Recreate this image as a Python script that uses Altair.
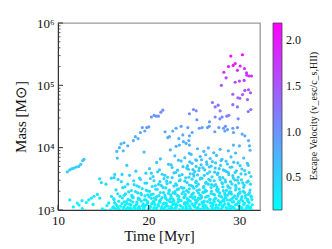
import altair as alt
import pandas as pd

# (time [Myr], mass [Msun], escape velocity)
bright_clusters = [
    (29.08, 295000, 2.05), (30.36, 309000, 2.12), (28.82, 200000, 1.95), (29.34, 209000, 1.97),
    (29.56, 224000, 2.00), (30.11, 204000, 1.93), (30.59, 186000, 1.88), (29.81, 174000, 1.86),
    (28.31, 162000, 1.80), (30.81, 158000, 1.84), (30.85, 145000, 1.80), (31.10, 141000, 1.76),
    (31.36, 141000, 1.80), (28.56, 132000, 1.72), (30.55, 120000, 1.70), (30.03, 117000, 1.66),
    (29.56, 112000, 1.62), (28.04, 100000, 1.55), (29.30, 72000, 1.45), (29.86, 63000, 1.44),
    (30.08, 62000, 1.40), (30.37, 71000, 1.50), (30.63, 83000, 1.55), (30.92, 59000, 1.40),
    (31.03, 85000, 1.56), (31.25, 76000, 1.50), (27.05, 53000, 1.30), (27.35, 45000, 1.28),
    (27.68, 48000, 1.30), (29.30, 49000, 1.35), (29.81, 45000, 1.30), (31.00, 38000, 1.25),
    (31.29, 41000, 1.30),
]

upper_clusters = [
    (24.95, 41000, 1.10), (27.90, 39000, 1.20), (27.35, 31000, 1.15), (27.87, 29000, 1.10),
    (28.12, 31000, 1.15), (28.64, 32000, 1.15), (28.86, 33000, 1.20), (29.89, 29000, 1.10),
    (25.33, 28000, 1.00), (24.51, 35000, 1.05), (25.25, 39000, 1.08), (26.72, 26000, 1.00),
    (27.76, 21000, 0.95), (28.49, 22000, 1.00), (29.30, 20500, 0.95), (29.81, 21000, 0.95),
    (25.91, 21000, 0.90), (26.50, 21000, 0.90), (26.69, 22000, 0.95), (27.31, 18000, 0.90),
    (28.27, 20500, 0.95), (28.42, 18500, 0.90), (28.71, 19500, 0.90), (29.37, 17500, 0.90),
    (30.33, 16500, 0.85), (30.63, 15500, 0.85), (31.03, 13000, 0.80), (31.14, 10700, 0.75),
    (29.37, 11000, 0.75), (30.03, 10700, 0.75), (25.60, 20500, 0.90),
    (21.57, 40000, 1.10), (21.35, 37000, 1.05), (21.08, 32000, 1.05), (20.83, 32000, 1.00),
    (20.61, 33000, 1.00), (20.31, 31000, 1.00), (19.80, 21000, 0.90), (20.02, 21500, 0.90),
    (19.31, 21000, 0.90), (19.58, 18500, 0.85), (19.09, 17500, 0.85), (18.54, 15000, 0.80),
    (18.84, 14000, 0.80), (18.32, 13000, 0.80), (17.70, 10700, 0.75), (21.82, 18000, 0.85),
    (23.04, 20500, 0.90), (23.59, 22000, 0.90), (24.33, 21000, 0.90), (22.67, 18500, 0.85),
    (22.12, 14500, 0.80), (22.30, 15000, 0.80), (23.34, 14000, 0.80), (23.78, 16000, 0.85),
    (24.51, 15500, 0.85), (24.44, 13000, 0.80), (24.81, 17500, 0.85), (23.85, 12500, 0.80),
    (24.14, 11700, 0.75), (23.40, 11000, 0.75), (23.04, 10500, 0.75), (24.51, 11000, 0.75),
    (16.49, 8700, 0.70), (16.96, 11500, 0.75), (17.29, 12000, 0.75), (16.77, 10000, 0.72),
    (17.20, 8900, 0.70),
]

early_clusters = [
    (11.03, 4100, 0.55), (11.29, 4400, 0.55), (11.55, 4600, 0.56), (11.77, 4700, 0.56),
    (12.02, 4900, 0.57), (12.29, 5000, 0.57), (12.51, 5400, 0.58), (12.73, 6200, 0.60),
    (12.87, 6500, 0.61),
    (11.30, 1450, 0.30), (11.70, 1120, 0.25), (12.13, 1290, 0.28), (12.32, 1200, 0.26),
    (12.65, 1410, 0.30), (12.69, 1050, 0.22), (13.13, 1320, 0.28), (13.39, 1450, 0.30),
    (13.68, 1550, 0.31), (13.87, 1230, 0.27), (13.98, 1660, 0.33), (14.34, 1780, 0.34),
    (14.61, 1550, 0.31), (14.60, 3160, 0.46), (14.78, 2750, 0.43), (15.89, 3240, 0.47),
    (16.26, 3720, 0.50), (16.63, 3090, 0.46), (17.07, 3720, 0.50), (16.55, 6800, 0.64),
]

mid_clusters = [
    (19.5, 8500, 0.68), (22.4, 9200, 0.70), (24.5, 8100, 0.67), (25.4, 9600, 0.72), (26.1, 8700, 0.69),
    (26.6, 9900, 0.73), (27.2, 8300, 0.68), (27.9, 9400, 0.71), (28.8, 8900, 0.70), (29.6, 8200, 0.67),
    (31.2, 9100, 0.70),
    (21.3, 6600, 0.62), (22.9, 7400, 0.65), (24.0, 6900, 0.63), (24.7, 7800, 0.66), (25.2, 6400, 0.61),
    (25.7, 7200, 0.64), (26.3, 7700, 0.66), (26.8, 6700, 0.62), (27.5, 7500, 0.65), (28.1, 6500, 0.61),
    (29.1, 7100, 0.64), (30.5, 6800, 0.63),
    (17.6, 5200, 0.56), (20.9, 5800, 0.59), (22.2, 5400, 0.57), (23.6, 6100, 0.60), (24.3, 5100, 0.56),
    (24.8, 5600, 0.58), (25.3, 6250, 0.61), (25.8, 5300, 0.57), (26.4, 5900, 0.59), (26.9, 5050, 0.56),
    (27.4, 5700, 0.58), (28.0, 6200, 0.60), (28.7, 5450, 0.57), (29.4, 5850, 0.59), (30.1, 5150, 0.56),
    (30.9, 5600, 0.58),
    (18.6, 4200, 0.53), (20.1, 4600, 0.55), (21.0, 4100, 0.52), (22.6, 4800, 0.56), (23.2, 4350, 0.54),
    (23.8, 4950, 0.56), (24.4, 4500, 0.54), (25.1, 4150, 0.53), (25.6, 4700, 0.55), (26.2, 4400, 0.54),
    (26.7, 4900, 0.56), (27.3, 4050, 0.52), (27.8, 4600, 0.55), (28.4, 4300, 0.53), (29.0, 4850, 0.56),
    (29.7, 4250, 0.53), (30.3, 4550, 0.55), (31.1, 4000, 0.52), (24.9, 4450, 0.54), (26.0, 4750, 0.55),
    (28.6, 4150, 0.53),
    (16.2, 3300, 0.48), (17.9, 3600, 0.50), (19.0, 3250, 0.48), (19.7, 3900, 0.51), (20.5, 3450, 0.49),
    (21.5, 3750, 0.50), (22.1, 3350, 0.48), (22.8, 3950, 0.51), (23.4, 3550, 0.49), (24.1, 3280, 0.48),
    (24.6, 3800, 0.51), (25.0, 3500, 0.49), (25.4, 3650, 0.50), (25.9, 3220, 0.47), (26.5, 3850, 0.51),
    (27.0, 3400, 0.49), (27.6, 3700, 0.50), (28.2, 3300, 0.48), (28.8, 3980, 0.52), (29.3, 3550, 0.49),
    (29.9, 3350, 0.48), (30.7, 3750, 0.50), (31.3, 3450, 0.49),
    (20.3, 3900, 0.51), (21.2, 4400, 0.54), (21.8, 3600, 0.50), (22.5, 5300, 0.57), (23.0, 4000, 0.52),
    (23.3, 6300, 0.61), (23.7, 3700, 0.50), (24.2, 4700, 0.55), (24.55, 5900, 0.59), (24.95, 3800, 0.51),
    (25.25, 5000, 0.56), (25.55, 4300, 0.53), (25.85, 6400, 0.61), (26.15, 3600, 0.50), (26.45, 5400, 0.57),
    (26.75, 4100, 0.52), (27.05, 6000, 0.60), (27.35, 4700, 0.55), (27.65, 3900, 0.51), (27.95, 5200, 0.56),
    (28.25, 4400, 0.54), (28.55, 6100, 0.60), (28.85, 3700, 0.50), (29.2, 4900, 0.55), (29.55, 4000, 0.52),
    (29.85, 5700, 0.58), (30.2, 3800, 0.51), (30.6, 4300, 0.53), (31.0, 5200, 0.56),
]

low_clusters = [
    (15.3, 2600, 0.43), (17.0, 2850, 0.45), (18.4, 2550, 0.42), (19.1, 3100, 0.47), (19.8, 2700, 0.44),
    (20.6, 2950, 0.46), (21.1, 2580, 0.43), (21.7, 3180, 0.47), (22.4, 2780, 0.44), (23.0, 2640, 0.43),
    (23.5, 3050, 0.46), (24.0, 2900, 0.45), (24.5, 2520, 0.42), (25.2, 2750, 0.44), (25.7, 3150, 0.47),
    (26.3, 2680, 0.43), (26.8, 2980, 0.46), (27.4, 2560, 0.42), (27.9, 3080, 0.46), (28.5, 2820, 0.45),
    (29.2, 2620, 0.43), (29.8, 3000, 0.46), (30.4, 2720, 0.44), (31.0, 2900, 0.45),
    (22.0, 2900, 0.45), (24.8, 3120, 0.47), (26.6, 2600, 0.43), (28.1, 2760, 0.44), (29.5, 3050, 0.46),
    (17.15, 2280, 0.41), (17.7, 2600, 0.43), (18.35, 2950, 0.46), (18.95, 2350, 0.41), (19.6, 2700, 0.44),
    (20.2, 3200, 0.47), (20.75, 2450, 0.42), (21.25, 2850, 0.45), (21.6, 2300, 0.41), (22.05, 2650, 0.43),
    (22.6, 3300, 0.48), (23.1, 2500, 0.42), (23.4, 2950, 0.46), (23.75, 2250, 0.40), (24.25, 2750, 0.44),
    (24.45, 3350, 0.48), (24.85, 2400, 0.41), (25.25, 2900, 0.45), (25.5, 2600, 0.43), (25.75, 3250, 0.47),
    (26.05, 2300, 0.41), (26.35, 2800, 0.45), (26.65, 3100, 0.46), (26.95, 2550, 0.42), (27.25, 2950, 0.46),
    (27.55, 2350, 0.41), (27.85, 3350, 0.48), (28.15, 2650, 0.43), (28.45, 3050, 0.46), (28.75, 2450, 0.42),
    (29.05, 2850, 0.45), (29.35, 3250, 0.47), (29.65, 2300, 0.41), (29.95, 2700, 0.44), (30.25, 3050, 0.46),
    (30.55, 2500, 0.42), (30.85, 2800, 0.45), (31.25, 2600, 0.43),
    (16.4, 2100, 0.39), (17.4, 2350, 0.41), (18.1, 2050, 0.38), (18.7, 2450, 0.42), (19.3, 2200, 0.40),
    (19.9, 2020, 0.38), (20.4, 2380, 0.41), (20.8, 2150, 0.39), (21.4, 2480, 0.42), (21.9, 2260, 0.40),
    (22.3, 2080, 0.39), (22.8, 2420, 0.41), (23.3, 2180, 0.40), (23.6, 2320, 0.41), (24.2, 2040, 0.38),
    (24.7, 2470, 0.42), (25.0, 2230, 0.40), (25.6, 2110, 0.39), (26.1, 2390, 0.41), (26.4, 2010, 0.38),
    (26.9, 2290, 0.40), (27.2, 2440, 0.42), (27.7, 2130, 0.39), (28.2, 2360, 0.41), (28.6, 2060, 0.38),
    (29.0, 2250, 0.40), (29.6, 2490, 0.42), (30.0, 2170, 0.39), (30.5, 2310, 0.41), (31.2, 2090, 0.39),
    (23.9, 2250, 0.40), (25.3, 2400, 0.41), (27.5, 2120, 0.39), (28.8, 2330, 0.41),
    (15.9, 1650, 0.34), (16.6, 1820, 0.36), (17.3, 1720, 0.35), (17.8, 1950, 0.37), (18.2, 1610, 0.33),
    (18.8, 1880, 0.36), (19.2, 1760, 0.35), (19.6, 1680, 0.34), (20.1, 1990, 0.38), (20.5, 1800, 0.36),
    (20.9, 1640, 0.34), (21.3, 1910, 0.37), (21.8, 1740, 0.35), (22.2, 1850, 0.36), (22.5, 1620, 0.33),
    (22.9, 1970, 0.37), (23.2, 1700, 0.35), (23.7, 1830, 0.36), (24.0, 1660, 0.34), (24.4, 1930, 0.37),
    (24.8, 1780, 0.35), (25.1, 1620, 0.33), (25.5, 1890, 0.36), (25.8, 1710, 0.35), (26.2, 1960, 0.37),
    (26.6, 1670, 0.34), (26.9, 1840, 0.36), (27.3, 1750, 0.35), (27.6, 1990, 0.38), (28.0, 1630, 0.34),
    (28.4, 1870, 0.36), (28.7, 1730, 0.35), (29.1, 1940, 0.37), (29.5, 1690, 0.34), (29.9, 1810, 0.36),
    (30.3, 1640, 0.34), (30.6, 1900, 0.37), (31.0, 1770, 0.35), (31.3, 1680, 0.34),
    (19.9, 1750, 0.35), (22.7, 1880, 0.36), (24.6, 1630, 0.34), (26.0, 1920, 0.37), (27.8, 1700, 0.35),
    (28.9, 1850, 0.36), (30.1, 1950, 0.37),
    (16.15, 1520, 0.32), (16.85, 1660, 0.34), (17.45, 1810, 0.36), (17.75, 1480, 0.31), (18.15, 1720, 0.35),
    (18.55, 1980, 0.38), (18.85, 1560, 0.32), (19.15, 1850, 0.36), (19.55, 1450, 0.31), (19.75, 2080, 0.39),
    (20.05, 1630, 0.34), (20.25, 1760, 0.35), (20.65, 1550, 0.32), (20.95, 2150, 0.40), (21.15, 1700, 0.35),
    (21.35, 1470, 0.31), (21.65, 1900, 0.37), (21.85, 1600, 0.33), (22.25, 2030, 0.38), (22.45, 1740, 0.35),
    (22.7, 1500, 0.32), (22.95, 1830, 0.36), (23.15, 2120, 0.40), (23.35, 1640, 0.34), (23.6, 1420, 0.30),
    (23.85, 1960, 0.37), (24.05, 1780, 0.35), (24.25, 1530, 0.32), (24.5, 2180, 0.40), (24.75, 1690, 0.34),
    (24.95, 1870, 0.36), (25.15, 1460, 0.31), (25.35, 2050, 0.39), (25.65, 1740, 0.35), (25.85, 1590, 0.33),
    (26.05, 1910, 0.37), (26.25, 2100, 0.39), (26.45, 1650, 0.34), (26.75, 1480, 0.31), (26.95, 2000, 0.38),
    (27.15, 1790, 0.35), (27.35, 1560, 0.32), (27.6, 2160, 0.40), (27.85, 1880, 0.36), (28.05, 1620, 0.33),
    (28.25, 2040, 0.38), (28.45, 1720, 0.35), (28.7, 1450, 0.31), (28.95, 1950, 0.37), (29.15, 1800, 0.36),
    (29.35, 1580, 0.32), (29.6, 2100, 0.39), (29.85, 1670, 0.34), (30.05, 1860, 0.36), (30.25, 1530, 0.32),
    (30.45, 1990, 0.38), (30.7, 1710, 0.35), (30.95, 1480, 0.31), (31.15, 1900, 0.37), (31.35, 1620, 0.33),
    (15.6, 1300, 0.29), (16.2, 1470, 0.31), (16.7, 1380, 0.30), (17.1, 1560, 0.32), (17.6, 1270, 0.28),
    (18.0, 1420, 0.30), (18.3, 1590, 0.33), (18.7, 1340, 0.29), (19.0, 1500, 0.31), (19.4, 1260, 0.28),
    (19.7, 1450, 0.31), (19.9, 1360, 0.30), (20.3, 1540, 0.32), (20.6, 1310, 0.29), (20.8, 1480, 0.31),
    (21.2, 1400, 0.30), (21.5, 1580, 0.33), (21.7, 1290, 0.28), (22.1, 1440, 0.31), (22.4, 1520, 0.32),
    (22.6, 1350, 0.29), (23.0, 1260, 0.28), (23.3, 1490, 0.31), (23.5, 1410, 0.30), (23.9, 1570, 0.32),
    (24.1, 1320, 0.29), (24.4, 1460, 0.31), (24.6, 1380, 0.30), (24.9, 1550, 0.32), (25.2, 1280, 0.28),
    (25.4, 1430, 0.30), (25.7, 1510, 0.32), (25.9, 1340, 0.29), (26.3, 1600, 0.33), (26.5, 1370, 0.30),
    (26.8, 1470, 0.31), (27.0, 1290, 0.28), (27.4, 1530, 0.32), (27.7, 1410, 0.30), (27.9, 1330, 0.29),
    (28.3, 1490, 0.31), (28.5, 1580, 0.33), (28.8, 1270, 0.28), (29.0, 1440, 0.31), (29.4, 1360, 0.30),
    (29.7, 1520, 0.32), (29.9, 1300, 0.29), (30.2, 1450, 0.31), (30.4, 1390, 0.30), (30.7, 1560, 0.32),
    (31.1, 1320, 0.29), (31.4, 1470, 0.31),
    (17.3, 1350, 0.29), (18.9, 1480, 0.31), (20.4, 1290, 0.28), (21.9, 1530, 0.32), (22.8, 1400, 0.30),
    (24.3, 1270, 0.28), (25.5, 1560, 0.32), (26.1, 1330, 0.29), (27.2, 1450, 0.31), (28.1, 1380, 0.30),
    (29.2, 1510, 0.32), (30.0, 1290, 0.28), (30.9, 1420, 0.30),
    (16.05, 1090, 0.24), (16.25, 1310, 0.29), (16.55, 1160, 0.25), (16.75, 1020, 0.22), (17.05, 1270, 0.28),
    (17.25, 1110, 0.24), (17.55, 1370, 0.30), (17.8, 1050, 0.23), (18.05, 1210, 0.27), (18.25, 1340, 0.29),
    (18.45, 1080, 0.23), (18.7, 1260, 0.28), (18.95, 1130, 0.25), (19.2, 1390, 0.30), (19.45, 1040, 0.22),
    (19.65, 1190, 0.26), (19.9, 1300, 0.29), (20.15, 1100, 0.24), (20.35, 1250, 0.27), (20.55, 1380, 0.30),
    (20.8, 1030, 0.22), (21.05, 1220, 0.27), (21.25, 1330, 0.29), (21.45, 1120, 0.24), (21.7, 1020, 0.22),
    (21.95, 1280, 0.28), (22.15, 1150, 0.25), (22.35, 1360, 0.30), (22.55, 1070, 0.23), (22.8, 1240, 0.27),
    (23.05, 1120, 0.24), (23.25, 1350, 0.29), (23.45, 1190, 0.26), (23.7, 1010, 0.21), (23.95, 1300, 0.29),
    (24.15, 1140, 0.25), (24.35, 1390, 0.30), (24.55, 1060, 0.23), (24.8, 1260, 0.28), (25.05, 1170, 0.25),
    (25.25, 1330, 0.29), (25.45, 1100, 0.24), (25.7, 1020, 0.22), (25.95, 1270, 0.28), (26.15, 1390, 0.30),
    (26.35, 1160, 0.25), (26.55, 1040, 0.22), (26.8, 1300, 0.29), (27.05, 1130, 0.25), (27.25, 1360, 0.30),
    (27.45, 1210, 0.27), (27.7, 1060, 0.23), (27.95, 1280, 0.28), (28.15, 1170, 0.25), (28.35, 1380, 0.30),
    (28.55, 1090, 0.24), (28.8, 1250, 0.27), (29.05, 1150, 0.25), (29.25, 1340, 0.29), (29.45, 1070, 0.23),
    (29.7, 1230, 0.27), (29.95, 1380, 0.30), (30.15, 1120, 0.24), (30.35, 1020, 0.22), (30.6, 1290, 0.28),
    (30.85, 1160, 0.25), (31.05, 1350, 0.29), (31.25, 1100, 0.24), (31.45, 1210, 0.27),
    (14.9, 1040, 0.22), (15.4, 1180, 0.26), (15.8, 1010, 0.21), (16.1, 1120, 0.24), (16.4, 1230, 0.27),
    (16.6, 1070, 0.23), (16.9, 1150, 0.25), (17.2, 1020, 0.22), (17.4, 1200, 0.26), (17.7, 1090, 0.24),
    (17.9, 1240, 0.28), (18.1, 1030, 0.22), (18.4, 1130, 0.25), (18.6, 1190, 0.26), (18.8, 1060, 0.23),
    (19.1, 1000, 0.21), (19.3, 1170, 0.25), (19.5, 1110, 0.24), (19.8, 1220, 0.27), (20.0, 1050, 0.23),
    (20.2, 1140, 0.25), (20.5, 1010, 0.21), (20.7, 1210, 0.27), (20.9, 1080, 0.23), (21.1, 1160, 0.25),
    (21.4, 1030, 0.22), (21.6, 1240, 0.28), (21.8, 1100, 0.24), (22.0, 1180, 0.26), (22.3, 1040, 0.22),
    (22.5, 1130, 0.25), (22.7, 1230, 0.27), (22.9, 1070, 0.23), (23.1, 1190, 0.26), (23.4, 1020, 0.22),
    (23.6, 1150, 0.25), (23.8, 1090, 0.24), (24.0, 1240, 0.28), (24.2, 1050, 0.23), (24.5, 1170, 0.25),
    (24.7, 1010, 0.21), (24.9, 1200, 0.26), (25.1, 1120, 0.24), (25.3, 1060, 0.23), (25.6, 1220, 0.27),
    (25.8, 1030, 0.22), (26.0, 1140, 0.25), (26.2, 1190, 0.26), (26.4, 1080, 0.23), (26.7, 1000, 0.21),
    (26.9, 1160, 0.25), (27.1, 1230, 0.27), (27.3, 1050, 0.23), (27.5, 1110, 0.24), (27.8, 1200, 0.26),
    (28.0, 1020, 0.22), (28.2, 1140, 0.25), (28.4, 1240, 0.28), (28.7, 1070, 0.23), (28.9, 1180, 0.26),
    (29.1, 1040, 0.22), (29.3, 1120, 0.24), (29.6, 1210, 0.27), (29.8, 1010, 0.21), (30.0, 1150, 0.25),
    (30.3, 1090, 0.24), (30.5, 1230, 0.27), (30.8, 1060, 0.23), (31.0, 1170, 0.25), (31.3, 1030, 0.22),
    (15.2, 990, 0.20), (16.3, 1050, 0.22), (16.8, 970, 0.20), (17.5, 1030, 0.21), (18.0, 1080, 0.23),
    (18.5, 990, 0.20), (19.0, 1060, 0.22), (19.6, 980, 0.20), (20.1, 1020, 0.21), (20.6, 1090, 0.23),
    (21.0, 960, 0.20), (21.5, 1040, 0.22), (22.1, 1000, 0.21), (22.6, 970, 0.20), (23.0, 1070, 0.22),
    (23.5, 990, 0.20), (24.1, 1030, 0.21), (24.6, 1080, 0.23), (25.0, 970, 0.20), (25.5, 1010, 0.21),
    (26.1, 1060, 0.22), (26.6, 990, 0.20), (27.0, 1040, 0.22), (27.6, 970, 0.20), (28.1, 1090, 0.23),
    (28.6, 1000, 0.21), (29.0, 1050, 0.22), (29.5, 980, 0.20), (30.1, 1030, 0.21), (30.6, 990, 0.20),
    (31.1, 1070, 0.22),
]

x_ticks = [10, 20, 30]
y_major = [1e3, 1e4, 1e5, 1e6]
y_minor = [2e3, 3e3, 4e3, 5e3, 6e3, 7e3, 8e3, 9e3,
           2e4, 3e4, 4e4, 5e4, 6e4, 7e4, 8e4, 9e4,
           2e5, 3e5, 4e5, 5e5, 6e5, 7e5, 8e5, 9e5]
cbar_ticks = [0.5, 1.0, 1.5, 2.0]
cbar_title = ["Escape Velocity (v_esc/c_s,HII)"]

rows = low_clusters + mid_clusters + early_clusters + upper_clusters + bright_clusters
df = pd.DataFrame(rows, columns=["t", "mass", "vesc"])

FONT = "Liberation Serif"
W, H = 202, 187

x_scale = alt.Scale(domain=[10, 32.3], nice=False, zero=False)
y_scale = alt.Scale(type="log", domain=[1000, 1e6], nice=False)
c_scale = alt.Scale(domain=[0.14, 2.19], range=["#00ffff", "#ff00ff"], interpolate="rgb")

label_expr = ("datum.value == 1000 ? '10\u00b3' : datum.value == 10000 ? '10\u2074' : "
              "datum.value == 100000 ? '10\u2075' : '10\u2076'")

x_axis = alt.Axis(title="Time [Myr]", values=x_ticks, format="d", ticks=False,
                  labelFlush=False, labelPadding=4, titlePadding=1)
y_axis = alt.Axis(title="Mass [M\u2299]", values=y_major, labelExpr=label_expr,
                  labelFlush=False, ticks=False, labelPadding=4, titlePadding=8)

points = alt.Chart(df).mark_circle(size=10, opacity=1, clip=True).encode(
    x=alt.X("t:Q", scale=x_scale, axis=x_axis),
    y=alt.Y("mass:Q", scale=y_scale, axis=y_axis),
    color=alt.Color("vesc:Q", scale=c_scale,
                    legend=alt.Legend(title=None, orient="right",
                                      direction="vertical", gradientLength=H, gradientThickness=9,
                                      values=cbar_ticks, format=".1f", offset=13, padding=0,
                                      labelOffset=4,
                                      gradientStrokeColor="#444", gradientStrokeWidth=0.8)),
)

ymaj = alt.Chart(pd.DataFrame({"mass": y_major})).mark_rule(color="#333", strokeWidth=1).encode(
    y=alt.Y("mass:Q", scale=y_scale, axis=y_axis), x=alt.value(0), x2=alt.value(5))
ymin = alt.Chart(pd.DataFrame({"mass": y_minor})).mark_rule(color="#333", strokeWidth=0.8).encode(
    y=alt.Y("mass:Q", scale=y_scale, axis=y_axis), x=alt.value(0), x2=alt.value(2.5))
xmaj = alt.Chart(pd.DataFrame({"t": x_ticks})).mark_rule(color="#333", strokeWidth=1).encode(
    x=alt.X("t:Q", scale=x_scale, axis=x_axis), y=alt.value(H), y2=alt.value(H - 5))

cbar_label = alt.Chart(pd.DataFrame({"label": cbar_title})).mark_text(
    angle=270, font=FONT, fontSize=10, color="#111", baseline="middle", align="center"
).encode(text="label:N", x=alt.value(256), y=alt.value(93))

chart = alt.layer(points, ymaj, ymin, xmaj, cbar_label).properties(
    width=W, height=H,
    padding={"left": 50, "top": 15, "right": 64, "bottom": 36},
    autosize=alt.AutoSizeParams(type="none"),
).configure_view(stroke="#999", strokeWidth=1.3).configure_axis(
    grid=False, domainColor="#333", domainWidth=1,
    labelFont=FONT, labelFontSize=13, labelColor="#111",
    titleFont=FONT, titleFontSize=15, titleFontWeight="normal", titleColor="#111",
).configure_legend(
    labelFont=FONT, labelFontSize=12, labelColor="#111",
)

chart.save("out.html", embed_options={"renderer": "svg", "actions": False})
